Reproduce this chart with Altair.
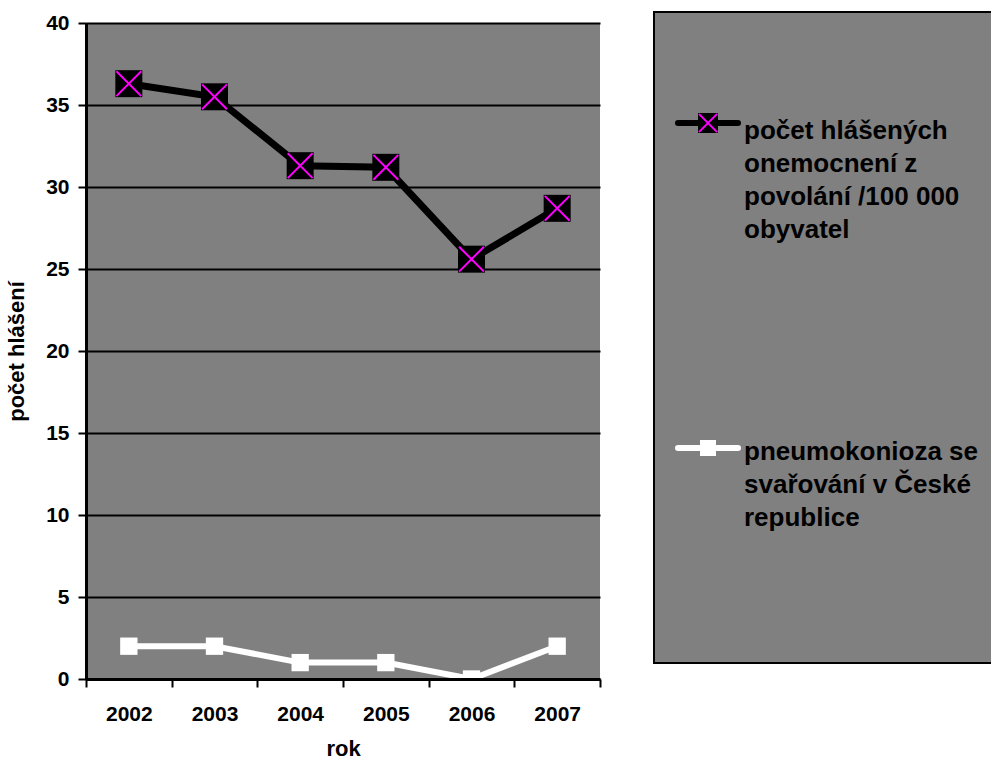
import altair as alt
import pandas as pd

years = ["2002", "2003", "2004", "2005", "2006", "2007"]
series_names = [
    "počet hlášených onemocnení z povolání /100 000 obyvatel",
    "pneumokonioza se svařování v České republice",
]
legend_labels = [
    "počet hlášených\nonemocnení z\npovolání /100 000\nobyvatel",
    "pneumokonioza se\nsvařování v České\nrepublice",
]
rate_values = [36.3, 35.5, 31.3, 31.2, 25.6, 28.7]
welding_values = [2, 2, 1, 1, 0, 2]
y_ticks = [0, 5, 10, 15, 20, 25, 30, 35, 40]

FONT = "Liberation Sans"
W, H = 514, 656

df1 = pd.DataFrame({"rok": years, "v": rate_values, "s": series_names[0]})
df2 = pd.DataFrame({"rok": years, "v": welding_values, "s": series_names[1]})

x_enc = alt.X(
    "rok:O",
    scale=alt.Scale(paddingInner=0, paddingOuter=0),
    axis=alt.Axis(
        title="rok", labelAngle=0, labelFont=FONT, labelFontSize=21,
        labelFontWeight="bold", labelColor="black", labelPadding=16,
        titleFont=FONT, titleFontSize=22, titleFontWeight="bold",
        titleColor="black", titlePadding=14,
        domainColor="black", domainWidth=3, tickColor="black",
        tickWidth=2, tickSize=8, tickBand="extent", grid=False, zindex=1,
    ),
)
y_enc = alt.Y(
    "v:Q",
    scale=alt.Scale(domain=[0, 40], nice=False),
    axis=alt.Axis(
        title="počet hlášení", values=y_ticks, labelFont=FONT,
        labelFontSize=21, labelFontWeight="bold", labelColor="black",
        labelPadding=9, titleFont=FONT, titleFontSize=22,
        titleFontWeight="bold", titleColor="black", titlePadding=17,
        domainColor="black", domainWidth=3, tickColor="black",
        tickWidth=2, tickSize=8, grid=True, gridColor="black",
        gridWidth=2, gridOpacity=1,
    ),
)

xpath = "M-1,-1L1,1M-1,1L1,-1"

line1 = alt.Chart(df1).mark_line(color="black", strokeWidth=7).encode(x=x_enc, y=y_enc)
sq1 = alt.Chart(df1).mark_point(shape="square", filled=True, color="black",
                                 size=729, opacity=1).encode(x="rok:O", y="v:Q")
x1 = alt.Chart(df1).mark_point(shape=xpath, filled=False, color="#FF00FF",
                                size=620, strokeWidth=2, opacity=1).encode(x="rok:O", y="v:Q")
line2 = alt.Chart(df2).mark_line(color="white", strokeWidth=6, clip=True).encode(x="rok:O", y="v:Q")
sq2 = alt.Chart(df2).mark_point(shape="square", filled=True, color="white",
                                 size=300, opacity=1, clip=True).encode(x="rok:O", y="v:Q")

# legend panel
one = pd.DataFrame({"k": [0]})
leg_box = alt.Chart(one).mark_rect(fill="#808080", stroke="black", strokeWidth=2).encode(
    x=alt.value(568), x2=alt.value(912), y=alt.value(-11), y2=alt.value(640))

leg_layers = [leg_box]
entry_y = [100, 425]
entry_text_y = [95, 416]
line_colors = ["black", "white"]
for i in range(2):
    d = pd.DataFrame({"label": [legend_labels[i]]})
    leg_layers.append(alt.Chart(d).mark_rule(color=line_colors[i], strokeWidth=6, strokeCap="round").encode(
        x=alt.value(592), x2=alt.value(652), y=alt.value(entry_y[i])))
    if i == 0:
        leg_layers.append(alt.Chart(d).mark_point(shape="square", filled=True, color="black",
                                                  size=400, opacity=1).encode(
            x=alt.value(622), y=alt.value(entry_y[i])))
        leg_layers.append(alt.Chart(d).mark_point(shape=xpath, filled=False, color="#FF00FF",
                                                  size=330, strokeWidth=2, opacity=1).encode(
            x=alt.value(622), y=alt.value(entry_y[i])))
    else:
        leg_layers.append(alt.Chart(d).mark_point(shape="square", filled=True, color="white",
                                                  size=256, opacity=1).encode(
            x=alt.value(622), y=alt.value(entry_y[i])))
    leg_layers.append(alt.Chart(d).mark_text(
        lineBreak="\n", align="left", baseline="top", lineHeight=33,
        font=FONT, fontSize=26, fontWeight="bold", color="black").encode(
        x=alt.value(658), y=alt.value(entry_text_y[i]), text="label:N"))

chart = alt.layer(line1, sq1, x1, line2, sq2, *leg_layers).properties(
    width=W, height=H,
    autosize=alt.AutoSizeParams(type="none"),
    padding={"left": 86, "top": 23, "right": 991 - 86 - W, "bottom": 760 - 23 - H},
    background="white",
).configure_view(fill="#808080", stroke=None)

chart.save("out.html", embed_options={"renderer": "svg", "actions": False})
